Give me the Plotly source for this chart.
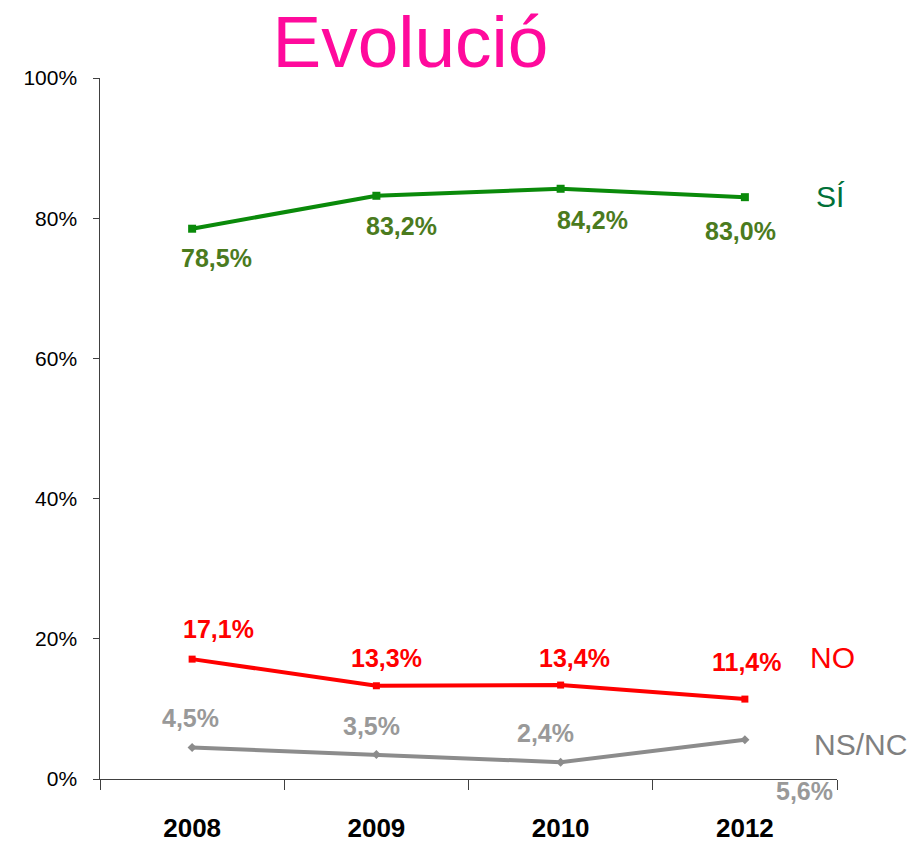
import plotly.graph_objects as go

years = ["2008", "2009", "2010", "2012"]
si = [78.5, 83.2, 84.2, 83.0]
no = [17.1, 13.3, 13.4, 11.4]
nsnc = [4.5, 3.5, 2.4, 5.6]
si_labels = ["78,5%", "83,2%", "84,2%", "83,0%"]
no_labels = ["17,1%", "13,3%", "13,4%", "11,4%"]
nsnc_labels = ["4,5%", "3,5%", "2,4%", "5,6%"]
y_ticks = [0, 20, 40, 60, 80, 100]
y_tick_text = ["0%", "20%", "40%", "60%", "80%", "100%"]

FONT = "Liberation Sans, Arial, sans-serif"

fig = go.Figure()
fig.add_trace(go.Scatter(x=years, y=si, mode="lines+markers",
                         line=dict(color="#0A8A0A", width=4),
                         marker=dict(symbol="square", size=8, color="#0A8A0A"),
                         showlegend=False))
fig.add_trace(go.Scatter(x=years, y=no, mode="lines+markers",
                         line=dict(color="#FF0000", width=4),
                         marker=dict(symbol="square", size=7, color="#FF0000"),
                         showlegend=False))
fig.add_trace(go.Scatter(x=years, y=nsnc, mode="lines+markers",
                         line=dict(color="#8C8C8C", width=4),
                         marker=dict(symbol="diamond", size=7, color="#8C8C8C"),
                         showlegend=False))

si_off = [(24, -29), (25, -30), (32, -31), (-4, -34)]
no_off = [(26, 30), (10, 28), (14, 27), (2, 37)]
ns_off = [(-2, 29), (-5, 28), (-15, 29), (60, -51)]
for vals, labels, offs, col in [(si, si_labels, si_off, "#4B7B1E"),
                                (no, no_labels, no_off, "#FF0000"),
                                (nsnc, nsnc_labels, ns_off, "#999999")]:
    for i, (yv, t, (dx, dy)) in enumerate(zip(vals, labels, offs)):
        fig.add_annotation(x=i, y=yv, xref="x", yref="y", text="<b>" + t + "</b>",
                           showarrow=False, xshift=dx, yshift=dy,
                           font=dict(family=FONT, size=25, color=col))

fig.add_annotation(x=3, y=si[-1], xref="x", yref="y", text="SÍ", showarrow=False,
                   xshift=86, yshift=1, font=dict(family=FONT, size=30, color="#007038"))
fig.add_annotation(x=3, y=no[-1], xref="x", yref="y", text="NO", showarrow=False,
                   xshift=88, yshift=42, font=dict(family=FONT, size=30, color="#FF0000"))
fig.add_annotation(x=3, y=nsnc[-1], xref="x", yref="y", text="NS/NC", showarrow=False,
                   xshift=116, yshift=-5, font=dict(family=FONT, size=30, color="#808080"))

fig.update_layout(
    width=923, height=845,
    margin=dict(l=92, r=94, t=70, b=74),
    plot_bgcolor="white", paper_bgcolor="white",
    title=dict(text="Evolució", x=0.436, xanchor="center", y=0.96, yanchor="middle",
               font=dict(family=FONT, size=73, color="#FF0A9C")),
    xaxis=dict(type="category", range=[-0.5, 3.5], showgrid=False, zeroline=False,
               showline=True, linecolor="#404040", linewidth=1, automargin=False,
               ticks="outside", tickson="boundaries", ticklen=10, tickcolor="#404040",
               ticklabelstandoff=26,
               tickfont=dict(family=FONT, size=26, color="black"),
               tickvals=years, ticktext=["<b>" + y + "</b>" for y in years]),
    yaxis=dict(range=[0, 100], tickvals=y_ticks, automargin=False,
               ticktext=[t + "\u00a0\u00a0" for t in y_tick_text],
               showgrid=False, zeroline=False, showline=True, linecolor="#404040",
               linewidth=1, ticks="outside", ticklen=6, tickcolor="#404040",
               tickfont=dict(family=FONT, size=21, color="black")),
)

fig.write_html("out.html")
